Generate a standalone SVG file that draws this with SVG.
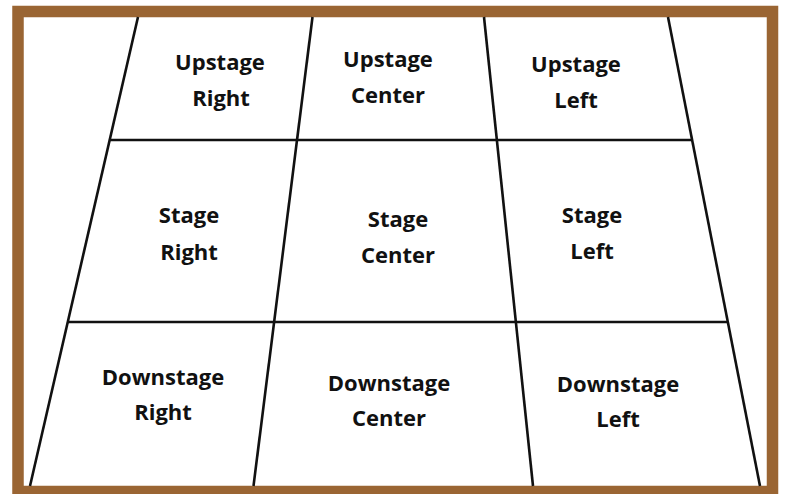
<svg xmlns="http://www.w3.org/2000/svg" width="785" height="494" viewBox="0 0 785 494">
<style>
.frame{fill:#ffffff;stroke:#9a6533;stroke-width:11.5}
.ln{stroke:#111;stroke-width:2.6;fill:none;stroke-linecap:butt}
.t{font-family:"Open Sans","Noto Sans","DejaVu Sans",sans-serif;font-weight:bold;font-size:22px;fill:#111;text-anchor:middle}
</style>
<rect width="785" height="494" fill="#ffffff"/>
<rect class="frame" x="18" y="11.5" width="754.5" height="480"/>
<g id="connectors">
<line class="ln" x1="138" y1="17" x2="30" y2="486"/>
<line class="ln" x1="312.5" y1="17" x2="253.5" y2="486"/>
<line class="ln" x1="484" y1="17" x2="533" y2="486"/>
<line class="ln" x1="668" y1="17" x2="760" y2="486"/>
<line class="ln" x1="110" y1="140" x2="692" y2="140"/>
<line class="ln" x1="68" y1="322" x2="728" y2="322"/>
</g>
<g id="upstage-right"><text class="t" x="220" y="70">Upstage</text><text class="t" x="221" y="106">Right</text></g>
<g id="upstage-center"><text class="t" x="388" y="67">Upstage</text><text class="t" x="388" y="103">Center</text></g>
<g id="upstage-left"><text class="t" x="576" y="72">Upstage</text><text class="t" x="576" y="108">Left</text></g>
<g id="stage-right"><text class="t" x="189" y="223">Stage</text><text class="t" x="189" y="260">Right</text></g>
<g id="stage-center"><text class="t" x="398" y="227">Stage</text><text class="t" x="398" y="263">Center</text></g>
<g id="stage-left"><text class="t" x="592" y="223">Stage</text><text class="t" x="592" y="259">Left</text></g>
<g id="downstage-right"><text class="t" x="163" y="385">Downstage</text><text class="t" x="163" y="420">Right</text></g>
<g id="downstage-center"><text class="t" x="389" y="391">Downstage</text><text class="t" x="389" y="426">Center</text></g>
<g id="downstage-left"><text class="t" x="618" y="392">Downstage</text><text class="t" x="618" y="427">Left</text></g>
</svg>
